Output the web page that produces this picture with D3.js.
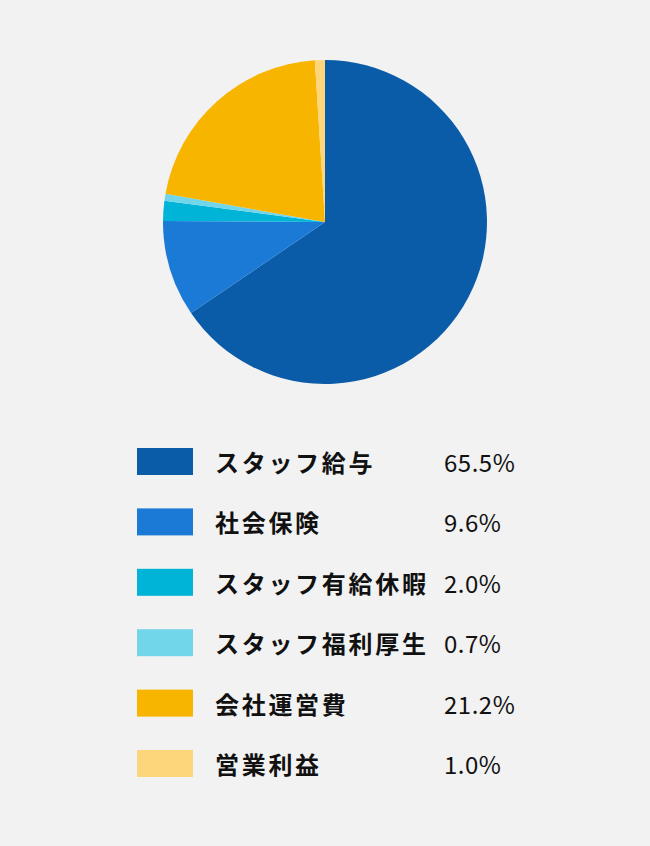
<!DOCTYPE html>
<html><head><meta charset="utf-8">
<script src="https://cdn.jsdelivr.net/npm/d3@7"></script>
<style>
html,body{margin:0;padding:0;background:#f2f2f2;}
svg{display:block;}
</style></head>
<body>
<svg id="c" width="650" height="846"></svg>
<script>
const categories = ["スタッフ給与","社会保険","スタッフ有給休暇","スタッフ福利厚生","会社運営費","営業利益"];
const values = [65.5, 9.6, 2.0, 0.7, 21.2, 1.0];
const valueLabels = ["65.5%","9.6%","2.0%","0.7%","21.2%","1.0%"];
const colors = ["#0b5ca8","#1b7ad6","#00b4d8","#72d6ea","#f8b500","#fdd67c"];

const svg = d3.select("#c");
svg.append("rect").attr("width",650).attr("height",846).attr("fill","#f2f2f2");

const data = categories.map((c,i)=>({name:c, value:values[i], label:valueLabels[i], color:colors[i]}));
const pie = d3.pie().sort(null).value(d=>d.value);
const arc = d3.arc().innerRadius(0).outerRadius(162);

const g = svg.append("g").attr("transform","translate(325,222)");
g.selectAll("path").data(pie(data)).join("path")
  .attr("d",arc).attr("fill",d=>d.data.color);

const y = d3.scalePoint().domain(categories).range([461,763]);
const leg = svg.append("g");
const rows = leg.selectAll("g").data(data).join("g")
  .attr("transform",d=>`translate(0,${y(d.name)})`);
rows.append("rect").attr("x",137).attr("y",-13).attr("width",56).attr("height",27).attr("fill",d=>d.color);
rows.append("text").attr("x",215).attr("y",11)
  .attr("font-family","'Noto Sans CJK JP','Noto Sans',sans-serif")
  .attr("font-weight","bold").attr("font-size",24).attr("letter-spacing","2.7px")
  .attr("fill","#111").text(d=>d.name);
rows.append("text").attr("x",444).attr("y",11)
  .attr("font-family","'Noto Sans CJK JP','Noto Sans',sans-serif")
  .attr("font-size",24).attr("letter-spacing","0.5px").attr("fill","#111").text(d=>d.label);
</script>
</body></html>
